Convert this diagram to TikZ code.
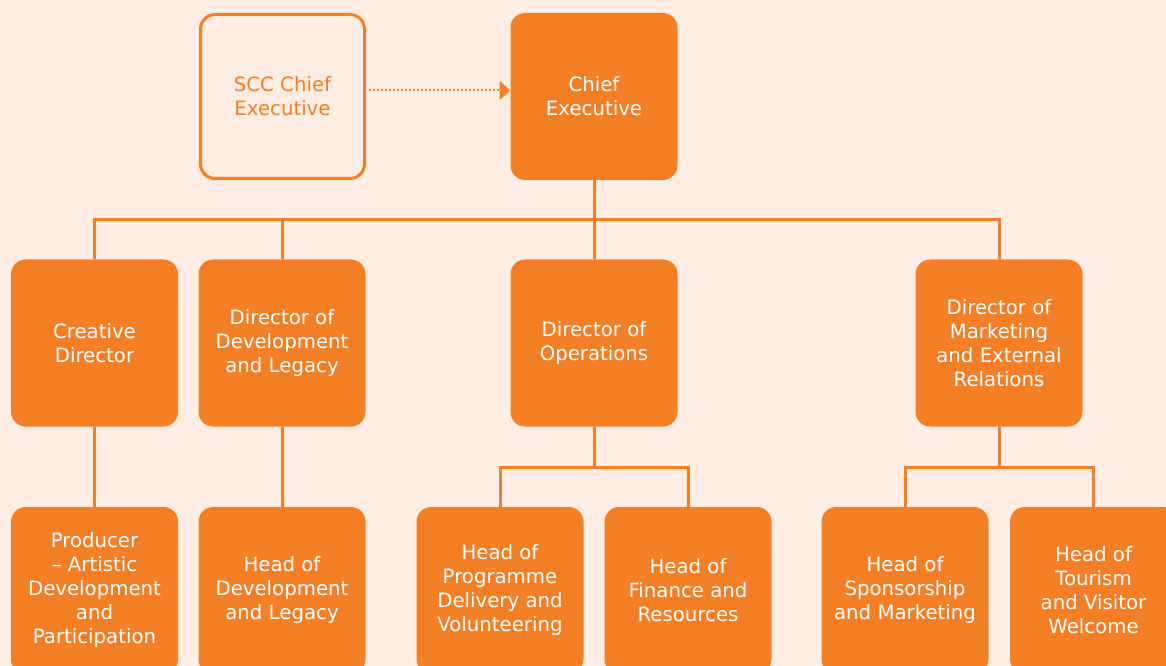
\documentclass[tikz,border=0pt]{standalone}
\usepackage{fontspec}
\setmainfont{DejaVu Sans}
\usepackage{tikz}
\usetikzlibrary{arrows.meta}

\definecolor{sccorange}{RGB}{244,127,39}
\definecolor{sccpeach}{RGB}{254,237,226}

\begin{document}
\begin{tikzpicture}[x=0.75pt,y=-0.75pt,
	post/.style={rectangle,rounded corners=11pt,inner sep=0pt,align=center,
	             minimum width=125.25pt,minimum height=125.25pt,
	             font=\fontsize{14.8}{18}\selectfont},
	link/.style={draw=sccorange,line width=2.25pt}]
	\fill[sccpeach] (0,0) rectangle (1166,666);
	\clip (0,0) rectangle (1166,666);

	\node[post,draw=sccorange,line width=2.25pt,text=sccorange,
	      minimum width=123pt,minimum height=123pt] (1) at (282.5,96.5) {SCC Chief\\Executive};
	\begin{scope}[every node/.style={post,fill=sccorange,text=white}]
		\node (2) at (594,96.5) {Chief\\Executive};
		\node (3) at (94.5,343) {Creative\\Director};
		\node (4) at (282,343) {Director of\\Development\\and Legacy};
		\node (5) at (594,343) {Director of\\Operations};
		\node (6) at (999,343) {Director of\\Marketing\\and External\\Relations};
		\node (7) at (94.5,590.5) {Producer\\-- Artistic\\Development\\and\\Participation};
		\node (8) at (282,590.5) {Head of\\Development\\and Legacy};
		\node (9) at (500,590.5) {Head of\\Programme\\Delivery and\\Volunteering};
		\node (10) at (688,590.5) {Head of\\Finance and\\Resources};
		\node (11) at (905,590.5) {Head of\\Sponsorship\\and Marketing};
		\node (12) at (1093.5,590.5) {Head of\\Tourism\\and Visitor\\Welcome};
	\end{scope}

	\coordinate (bus) at (594,220);
	\coordinate (opsbus) at (594,467);
	\coordinate (mktbus) at (999,467);

	\draw[link] (2) -- (bus) -- (5);
	\draw[link] (bus) -| (3);
	\draw[link] (bus) -| (4);
	\draw[link] (bus) -| (6);
	\draw[link] (3) -- (7);
	\draw[link] (4) -- (8);
	\draw[link] (5) -- (opsbus) -| (9);
	\draw[link] (opsbus) -| (10);
	\draw[link] (6) -- (mktbus) -| (11);
	\draw[link] (mktbus) -| (12);

	% dotted reporting line
	\draw[sccorange,line width=1.5pt,dash pattern=on 1.5pt off 1.5pt,shorten <=2pt,
	      -{Triangle[length=8pt,width=14pt]}] ([yshift=4.5pt]1.east) -- ([yshift=4.5pt]2.west);
\end{tikzpicture}
\end{document}
